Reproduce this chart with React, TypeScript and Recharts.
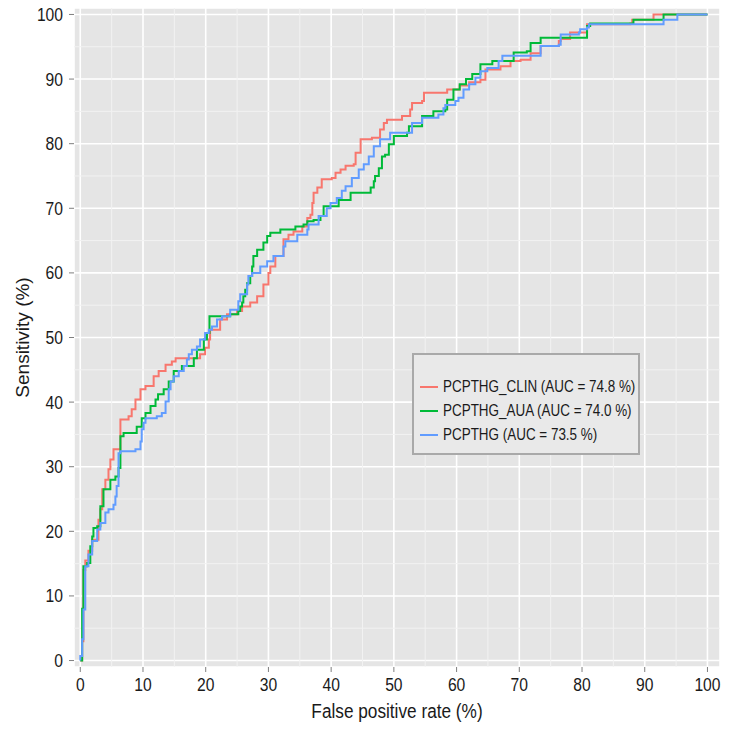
import React from 'react';
import {
  CartesianGrid,
  Label,
  Legend,
  Line,
  LineChart,
  ReferenceLine,
  XAxis,
  YAxis,
} from 'recharts';

// [false positive rate %, sensitivity %] step corners
const CLIN: [number, number][] = [
  [0, 0], [0.3, 0], [0.3, 3], [0.5, 6], [0.5, 14], [0.8, 15.5], [1.3, 17], [1.9, 18.7],
  [2.9, 21.8], [3.2, 23.4], [3.5, 25], [3.5, 26.5], [4, 28], [4.5, 29.6], [4.8, 31.1],
  [5.3, 32.7], [6.1, 32.7], [6.4, 37.3], [7.7, 37.8], [8.2, 38.9], [8.8, 40.4], [9.6, 42],
  [10.4, 42.5], [11.2, 42.5], [11.7, 44], [12.5, 44.8], [13.6, 45.8], [14.6, 46.3],
  [15.2, 46.8], [18.1, 46.8], [19.1, 47.4], [19.9, 48.4], [20.5, 49.7], [20.7, 51.2],
  [22.3, 52.8], [23.4, 53.6], [25, 54.1], [25.8, 54.8], [27.1, 55.4], [28.2, 56.4],
  [29.2, 58.2], [30, 60], [30.3, 61], [31.1, 62.6], [32.4, 65.2], [33.2, 65.9], [34, 66.4],
  [35.4, 67.2], [36.2, 68.5], [36.7, 69], [37, 70.8], [37.2, 72.4], [37.8, 73.2],
  [38.5, 74.5], [40.1, 74.7], [40.7, 75.5], [41.5, 76], [42.3, 76.6], [43.6, 76.8],
  [43.9, 78.6], [44.7, 80.7], [46.5, 80.9], [47.8, 82.2], [48.4, 83.2], [48.9, 83.7],
  [50.8, 83.7], [51.3, 84.3], [52.6, 85.3], [52.9, 86.3], [54.5, 86.6], [54.8, 87.9],
  [57.9, 87.9], [58.5, 88.4], [60.5, 89], [62, 89.5], [63.8, 89.9], [64.6, 91.5],
  [66.7, 91.5], [67, 92], [68.6, 92.8], [70.2, 93], [71.5, 93], [71.8, 94], [73.4, 95.1],
  [76, 95.1], [76.3, 95.9], [76.6, 96.2], [78.1, 97.2], [79.7, 97.2], [80.8, 98.5],
  [87.7, 98.6], [88, 99.2], [91.4, 99.2], [91.4, 100], [100, 100],
];

const AUA: [number, number][] = [
  [0, 0], [0.3, 0], [0.3, 8], [0.5, 9.4], [0.5, 14.6], [1.1, 15.1], [1.6, 17.7], [1.9, 19.2],
  [2.1, 20.5], [2.7, 20.8], [3.2, 22.3], [3.2, 23.9], [3.7, 26.5], [4.5, 26.5], [4.8, 28],
  [5.6, 28.5], [6.1, 29.8], [6.4, 32.7], [6.4, 34.7], [6.9, 35.2], [8.8, 35.2], [9, 36.2],
  [9.8, 37.5], [10.4, 38.3], [11.2, 39.4], [12, 40.4], [12.4, 41.2], [13.3, 42],
  [14.1, 43.2], [14.9, 44.8], [16.2, 45.6], [17.8, 45.6], [18.1, 46.8], [18.6, 48.1],
  [19.7, 49.7], [20.2, 50.7], [20.6, 51.2], [20.6, 53.3], [23.1, 53.3], [23.9, 53.6],
  [25.2, 54.1], [25.5, 54.8], [25.8, 55.4], [26, 56.4], [26.3, 57.4], [26.6, 58.4],
  [27.1, 59.5], [27.4, 61], [27.6, 62.6], [28.2, 63.6], [29.2, 64.7], [29.8, 65.7],
  [30.3, 66.2], [31.6, 66.2], [31.9, 66.7], [34, 66.7], [34.3, 67.2], [35.6, 67.5],
  [36.2, 68], [37.2, 68.2], [38.3, 68.8], [38.8, 70.3], [40.9, 70.3], [41.2, 71.3],
  [43.1, 72.4], [45.7, 72.4], [46.3, 73.2], [46.8, 74.2], [47, 75], [47.6, 76.2],
  [48.1, 78], [48.6, 78.3], [49.2, 79.9], [50, 81.2], [52.1, 81.7], [52.4, 82.7],
  [54.5, 84.3], [56.3, 85], [58.2, 85.3], [58.5, 86.8], [59.5, 88.4], [60.5, 89.2],
  [61.5, 90], [62.5, 90.8], [63.8, 92.3], [65.7, 92.8], [69.1, 94.1], [71.2, 94.3],
  [71.8, 95.6], [73.4, 96.4], [80.3, 96.4], [80.8, 98.2], [81.3, 98.6], [88, 98.6],
  [88.2, 99.2], [92.8, 99.2], [93, 100], [100, 100],
];

const BASE: [number, number][] = [
  [0, 0], [0, 0.7], [0.3, 3.3], [0.5, 7.9], [0.8, 14.6], [1.3, 16.4], [1.9, 18.5],
  [2.7, 20.3], [3.2, 21.3], [4, 22.9], [4.5, 23.4], [5.3, 24.1], [5.6, 25.4], [5.8, 27],
  [6.1, 29.1], [6.1, 32.1], [6.4, 32.4], [8.8, 32.7], [9.6, 33.9], [9.8, 35.8],
  [10.1, 36.8], [10.4, 37.5], [12.2, 37.8], [13, 38.3], [13.6, 40.1], [14.1, 42],
  [14.4, 43.2], [14.9, 44], [15.7, 44.8], [16.5, 45.6], [17, 46.6], [17.3, 47.4],
  [17.8, 48.1], [18.6, 48.6], [19.1, 49.7], [19.9, 50.7], [20.5, 51.2], [21, 51.7],
  [21.8, 52.8], [22.6, 53.3], [23.9, 54.3], [25.2, 55.6], [25.5, 56.7], [26.6, 58.2],
  [26.8, 59.5], [27.4, 60], [28.7, 61], [29.8, 61.8], [30.8, 62.6], [32.4, 64.1],
  [32.7, 64.9], [34.6, 65.9], [36.2, 66.7], [36.4, 67.5], [38, 68.8], [39.3, 70],
  [39.9, 70.8], [40.9, 71.6], [41.7, 72.7], [42.3, 73.4], [43.3, 74.7], [44.4, 76],
  [45.2, 76.8], [46, 78], [46.8, 79.6], [47.8, 80.7], [49.4, 81.7], [52.1, 81.7],
  [52.9, 83.2], [54, 83.2], [54.5, 84], [56.9, 84], [57.1, 84.5], [57.9, 85.5], [58.2, 86],
  [59.5, 86], [59.8, 86.6], [60.3, 87.1], [61.1, 88.4], [62, 89.2], [63, 90.2],
  [63.8, 91.2], [64.9, 91.7], [66.7, 92.8], [67.3, 93.6], [73.1, 93.6], [73.4, 95.1],
  [76.3, 95.3], [76.6, 96.9], [79.5, 97.2], [79.7, 97.7], [80.8, 98], [81.1, 98.5],
  [92.8, 98.5], [93, 99.2], [94.6, 99.2], [95.2, 100], [100, 100],
];

const SERIES_NAMES = [
  'PCPTHG_CLIN (AUC = 74.8 %)',
  'PCPTHG_AUA (AUC = 74.0 %)',
  'PCPTHG (AUC = 73.5 %)',
];
const SERIES_COLORS = ['#F8766D', '#00BA38', '#619CFF'];

const TICKS = [0, 10, 20, 30, 40, 50, 60, 70, 80, 90, 100];
const MINOR_TICKS = [5, 15, 25, 35, 45, 55, 65, 75, 85, 95];

const FONT = '"Liberation Sans", Arial, sans-serif';
const INK = '#1a1a1a';
const SQUEEZE = 0.87;

const toPoints = (pairs: [number, number][]) =>
  pairs.map(([fpr, sens]) => ({ fpr, sens }));

const SERIES = [CLIN, AUA, BASE].map(toPoints);

function XTick({ x, y, payload }: any) {
  return (
    <g transform={`translate(${x},${y}) scale(${SQUEEZE},1)`}>
      <text textAnchor="middle" dy="0.71em" fontSize={18} fontFamily={FONT} fill={INK}>
        {payload.value}
      </text>
    </g>
  );
}

function YTick({ x, y, payload }: any) {
  return (
    <g transform={`translate(${x},${y}) scale(${SQUEEZE},1)`}>
      <text textAnchor="end" dy="0.36em" fontSize={18} fontFamily={FONT} fill={INK}>
        {payload.value}
      </text>
    </g>
  );
}

function XTitle({ viewBox }: any) {
  const cx = viewBox.x + viewBox.width / 2;
  return (
    <g transform={`translate(${cx},${viewBox.y + 44}) scale(${SQUEEZE},1)`}>
      <text textAnchor="middle" dy="0.36em" fontSize={19.8} fontFamily={FONT} fill={INK}>
        False positive rate (%)
      </text>
    </g>
  );
}

function YTitle({ viewBox }: any) {
  const cy = viewBox.y + viewBox.height / 2;
  return (
    <text
      transform={`translate(22,${cy}) rotate(-90)`}
      textAnchor="middle"
      dy="0.36em"
      fontSize={19}
      fontFamily={FONT}
      fill={INK}
    >
      Sensitivity (%)
    </text>
  );
}

function LegendBox() {
  return (
    <div
      style={{
        width: '100%',
        height: '100%',
        boxSizing: 'border-box',
        border: '2px solid #a9a9a9',
        background: '#e9e9e9',
        paddingTop: 20,
        fontFamily: FONT,
      }}
    >
      {SERIES_NAMES.map((name, i) => (
        <div
          key={name}
          style={{ display: 'flex', alignItems: 'center', height: 24, paddingLeft: 6 }}
        >
          <span
            style={{
              width: 18,
              height: 2,
              background: SERIES_COLORS[i],
              display: 'inline-block',
              flexShrink: 0,
            }}
          />
          <span
            style={{
              marginLeft: 5,
              fontSize: 16,
              color: INK,
              whiteSpace: 'nowrap',
              display: 'inline-block',
              transform: 'scaleX(0.84)',
              transformOrigin: 'left center',
            }}
          >
            {name}
          </span>
        </div>
      ))}
    </div>
  );
}

export default function App() {
  return (
    <div style={{ position: 'absolute', left: 0, top: 0, width: 729, height: 729, background: '#fff' }}>
      <LineChart width={729} height={729} margin={{ top: 8, right: 9, bottom: 0, left: 0 }}>
        <CartesianGrid fill="#e5e5e5" fillOpacity={1} stroke="#ffffff" strokeWidth={1.6} />
        {MINOR_TICKS.map((v) => (
          <ReferenceLine key={`mx${v}`} x={v} stroke="#f2f2f2" strokeWidth={1} zIndex={-50} />
        ))}
        {MINOR_TICKS.map((v) => (
          <ReferenceLine key={`my${v}`} y={v} stroke="#f2f2f2" strokeWidth={1} zIndex={-50} />
        ))}
        <XAxis
          type="number"
          dataKey="fpr"
          domain={[-1, 102]}
          ticks={TICKS}
          interval={0}
          allowDataOverflow
          height={62}
          axisLine={false}
          tickSize={5}
          tickMargin={6}
          tickLine={{ stroke: '#7f7f7f', strokeWidth: 1 }}
          tick={(p: any) => <XTick {...p} />}
        >
          <Label content={(p: any) => <XTitle {...p} />} />
        </XAxis>
        <YAxis
          type="number"
          domain={[-1, 101]}
          ticks={TICKS}
          interval={0}
          allowDataOverflow
          width={74}
          axisLine={false}
          tickSize={5}
          tickMargin={6}
          tickLine={{ stroke: '#7f7f7f', strokeWidth: 1 }}
          tick={(p: any) => <YTick {...p} />}
        >
          <Label content={(p: any) => <YTitle {...p} />} />
        </YAxis>
        {SERIES.map((data, i) => (
          <Line
            key={SERIES_NAMES[i]}
            data={data}
            dataKey="sens"
            name={SERIES_NAMES[i]}
            type="stepAfter"
            stroke={SERIES_COLORS[i]}
            strokeWidth={2}
            dot={false}
            activeDot={false}
            isAnimationActive={false}
          />
        ))}
        <Legend
          layout="vertical"
          align="center"
          verticalAlign="middle"
          content={() => <LegendBox />}
          wrapperStyle={{ position: 'absolute', left: 412, top: 353, width: 228, height: 102 }}
        />
      </LineChart>
    </div>
  );
}
